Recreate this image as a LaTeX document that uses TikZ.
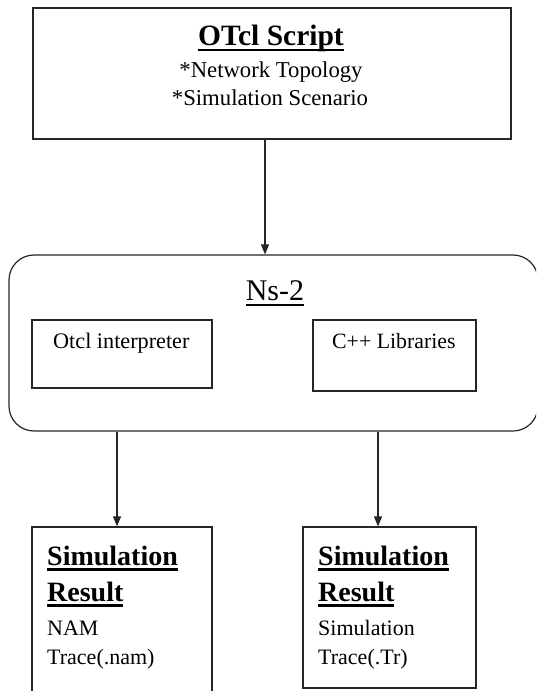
\documentclass[tikz,border=0pt]{standalone}
\usepackage{fontspec}
\setmainfont{Liberation Serif}
\usetikzlibrary{arrows.meta}
\newcommand\thul[3]{\setbox0=\hbox{#1}\leavevmode\rlap{\copy0}\raisebox{-#2}{\rule{\wd0}{#3}}}
\tikzset{
  box/.style={draw=black!85, line width=1.2pt, inner sep=0pt},
  arr/.style={draw=black!85, line width=1.2pt, -{Triangle[length=10pt,width=8pt]}},
  txt/.style={inner sep=0pt, anchor=base},
  ltxt/.style={inner sep=0pt, anchor=base west}
}
\begin{document}
\begin{tikzpicture}[x=1pt,y=-1pt]
\useasboundingbox (0,0) rectangle (536,691);
\clip (0,0) rectangle (536,691);
\fill[white] (0,0) rectangle (536,691);
% boxes
\node[box, minimum width=478pt, minimum height=131pt] (otcl) at (272,73.5) {};
\node[box, rounded corners=25pt, minimum width=529pt, minimum height=176pt] (ns) at (273.5,343) {};
\node[box, minimum width=180pt, minimum height=68pt] (interp) at (122,354) {};
\node[box, minimum width=163pt, minimum height=71pt] (cpp) at (394.5,355.5) {};
\node[box, minimum width=180pt, minimum height=173pt] (botL) at (122,613.5) {};
\node[box, minimum width=173pt, minimum height=161pt] (botR) at (389.5,607.5) {};
% texts
\node[txt] (t1) at (271,45) {\fontsize{29.5}{31}\selectfont\bfseries\thul{OTcl Script}{6pt}{2.2pt}};
\node[txt] (t2) at (271,77) {\fontsize{22.7}{25}\selectfont *Network Topology};
\node[txt] (t3) at (270,105) {\fontsize{22.7}{25}\selectfont *Simulation Scenario};
\node[txt] (t4) at (275,300) {\fontsize{30}{32}\selectfont\thul{Ns-2}{6pt}{2.2pt}};
\node[ltxt] (t5) at (53,348) {\fontsize{22.2}{24}\selectfont Otcl interpreter};
\node[ltxt] (t6) at (332,348) {\fontsize{21.8}{24}\selectfont C++ Libraries};
\node[ltxt] (l1) at (47,565) {\fontsize{28}{30}\selectfont\bfseries\thul{Simulation}{6pt}{2.6pt}};
\node[ltxt] (l2) at (47,601) {\fontsize{28}{30}\selectfont\bfseries\thul{Result}{6pt}{2.6pt}};
\node[ltxt] (l3) at (47,635) {\fontsize{22}{24}\selectfont NAM};
\node[ltxt] (l4) at (47,664) {\fontsize{22}{24}\selectfont Trace(.nam)};
\node[ltxt] (r1) at (318,565) {\fontsize{28}{30}\selectfont\bfseries\thul{Simulation}{6pt}{2.6pt}};
\node[ltxt] (r2) at (318,601) {\fontsize{28}{30}\selectfont\bfseries\thul{Result}{6pt}{2.6pt}};
\node[ltxt] (r3) at (318,635) {\fontsize{22}{24}\selectfont Simulation};
\node[ltxt] (r4) at (318,664) {\fontsize{22}{24}\selectfont Trace(.Tr)};
% connectors
\draw[arr] ([xshift=-7pt]otcl.south) -- ([xshift=-7pt]otcl.south |- ns.north);
\draw[arr] ([xshift=-5pt]botL.north |- ns.south) -- ([xshift=-5pt]botL.north);
\draw[arr] ([xshift=-11.5pt]botR.north |- ns.south) -- ([xshift=-11.5pt]botR.north);
\end{tikzpicture}
\end{document}
